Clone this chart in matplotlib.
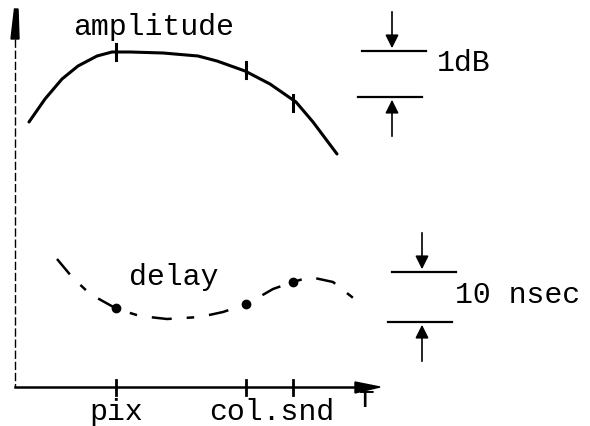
import numpy as np
import matplotlib.pyplot as plt

# ====== punti (coordinate in pixel, y verso il basso) ======
amp_x = [29, 45, 62, 78, 97, 112, 130, 163, 198, 217, 245, 270, 296, 313, 337]
amp_y = [123, 100, 80, 67, 57, 53, 53, 54, 57, 62, 72, 85, 103, 123, 155]

del_x = [57, 72, 90, 117, 140, 167, 200, 223, 247, 273, 293, 310, 333, 357]
del_y = [260, 278, 295, 310, 317, 320, 318, 313, 305, 290, 283, 278, 283, 302]

# frequenze marcate: pix, col, snd
tick_x = [116, 246, 293]
amp_tick_y = [53, 71, 104]
dot_y = [309, 305, 283]

tick_labels = ["pix", "col.snd"]
tick_label_x = [116, 272]

# barre di scala: (x freccia, linea alta, linea bassa, testo)
scale_x = [392, 422]
scale_top = [52, 273]
scale_bot = [98, 323]
scale_text = ["1dB", "10 nsec"]
scale_text_x = [437, 455]
scale_text_y = [63, 295]
# =============================================================================

fig = plt.figure(figsize=(5.9, 4.27), dpi=100)
ax = fig.add_axes([0, 0, 1, 1])
ax.set_xlim(0, 590)
ax.set_ylim(427, 0)
ax.axis("off")

font = dict(family="Liberation Mono", fontsize=21.5, color="black")

# assi
ax.plot([15, 15], [40, 388], color="black", lw=1.0, ls=(0, (6, 2)))
ax.fill([11, 14.5, 18, 19, 11], [40, 10, 10, 40, 40], color="black")
ax.plot([15, 358], [388, 388], color="black", lw=1.8)
ax.fill([355, 380, 355], [383, 388, 394], color="black")

# curva di ampiezza
ax.plot(amp_x, amp_y, color="black", lw=2.2, solid_capstyle="round",
        solid_joinstyle="round")
for x, y in zip(tick_x, amp_tick_y):
    ax.plot([x, x], [y - 8, y + 8], color="black", lw=2.2)

# curva di ritardo
ax.plot(del_x, del_y, color="black", lw=1.8, ls=(0, (8, 6, 3, 6)))
ax.plot(tick_x, dot_y, "o", color="black", ms=6)

# tacche sull'asse x
for x in tick_x:
    ax.plot([x, x], [381, 396], color="black", lw=2.0)

ax.text(154, 27, "amplitude", ha="center", va="center", **font)
ax.text(174, 277, "delay", ha="center", va="center", **font)
for lab, x in zip(tick_labels, tick_label_x):
    ax.text(x, 412, lab, ha="center", va="center", **font)
ax.text(367, 399, "f", ha="center", va="center", **font)

# barre di scala
for x, t, b, s, tx, ty in zip(scale_x, scale_top, scale_bot, scale_text,
                              scale_text_x, scale_text_y):
    ax.plot([x - 30, x + 34], [t, t], color="black", lw=1.6)
    ax.plot([x - 34, x + 30], [b, b], color="black", lw=1.6)
    ax.annotate("", xy=(x, t), xytext=(x, t - 42),
                arrowprops=dict(arrowstyle="-|>", color="black", lw=1.2,
                                mutation_scale=20))
    ax.annotate("", xy=(x, b), xytext=(x, b + 42),
                arrowprops=dict(arrowstyle="-|>", color="black", lw=1.2,
                                mutation_scale=20))
    ax.text(tx, ty, s, ha="left", va="center", **font)

fig.savefig("out.png", dpi=100)
